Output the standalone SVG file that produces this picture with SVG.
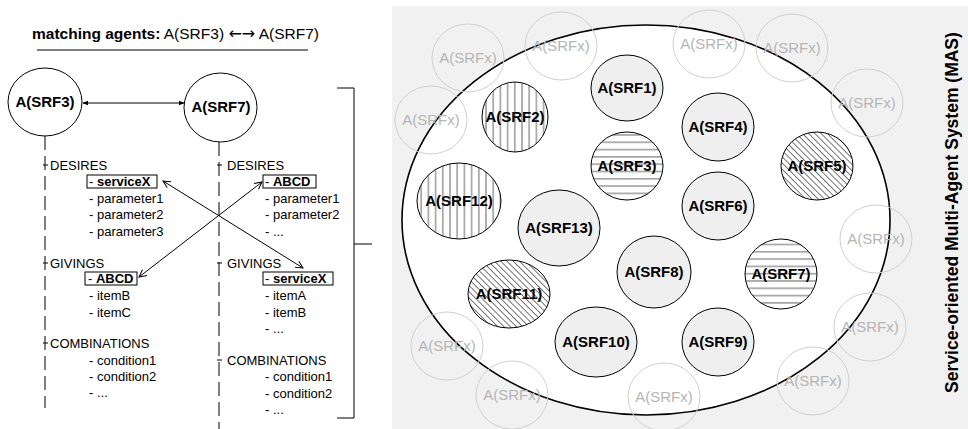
<svg xmlns="http://www.w3.org/2000/svg" width="968" height="429" viewBox="0 0 968 429">
  <defs>
    <style>
      text { font-family: "Liberation Sans", Arial, sans-serif; }
      .lbl { font-size: 15px; font-weight: bold; fill: #000; text-anchor: middle; }
      .ghost ellipse { fill: none; stroke: #d0d0d0; stroke-width: 1; }
      .ghost text { font-size: 15px; fill: #b5b5b5; text-anchor: middle; }
      .agent { stroke: #000; stroke-width: 1; }
      .item { font-size: 13px; fill: #000; }
      .b { font-weight: bold; }
      .arr { font-family: "DejaVu Sans", sans-serif; font-size: 16px; }
      .box { fill: none; stroke: #000; stroke-width: 1; }
      .dash { stroke: #000; stroke-width: 1; stroke-dasharray: 14 6; fill: none; }
      .line { stroke: #000; stroke-width: 1; fill: none; }
    </style>
    <pattern id="hatch-v" patternUnits="userSpaceOnUse" width="7.2" height="10">
      <rect width="7.2" height="10" fill="#fff"/>
      <line x1="3.6" y1="0" x2="3.6" y2="10" stroke="#666" stroke-width="1"/>
    </pattern>
    <pattern id="hatch-h" patternUnits="userSpaceOnUse" width="10" height="7.3">
      <rect width="10" height="7.3" fill="#fff"/>
      <line x1="0" y1="3.6" x2="10" y2="3.6" stroke="#666" stroke-width="1"/>
    </pattern>
    <pattern id="hatch-d" patternUnits="userSpaceOnUse" width="4.4" height="10" patternTransform="rotate(-45)">
      <rect width="4.4" height="10" fill="#fff"/>
      <line x1="2.2" y1="0" x2="2.2" y2="10" stroke="#666" stroke-width="0.9"/>
    </pattern>
    <marker id="open" viewBox="0 0 10 10" refX="9" refY="5" markerWidth="9" markerHeight="9" markerUnits="userSpaceOnUse" orient="auto-start-reverse">
      <path d="M1,1 L9,5 L1,9" fill="none" stroke="#000" stroke-width="1.1"/>
    </marker>
    <marker id="solid" viewBox="0 0 10 10" refX="9" refY="5" markerWidth="6" markerHeight="6" markerUnits="userSpaceOnUse" orient="auto-start-reverse">
      <path d="M0,1 L10,5 L0,9 Z" fill="#000"/>
    </marker>
  </defs>

  <!-- heading -->
  <g id="heading">
    <text x="32" y="39" font-size="15.5"><tspan class="b">matching agents:</tspan> A(SRF3) <tspan class="arr">←→</tspan> A(SRF7)</text>
    <line class="line" x1="37" y1="50" x2="308" y2="50"/>
  </g>

  <!-- connectors and guide lines -->
  <g id="connectors">
    <line class="dash" x1="45" y1="136" x2="45" y2="408"/>
    <line class="dash" x1="219" y1="142" x2="219" y2="429"/>
    <line class="line" x1="83" y1="103" x2="184" y2="103" marker-start="url(#solid)" marker-end="url(#solid)"/>
    <line class="line" x1="163" y1="181" x2="303" y2="268" marker-start="url(#open)" marker-end="url(#open)"/>
    <line class="line" x1="262" y1="182" x2="139" y2="277" marker-start="url(#open)" marker-end="url(#open)"/>
    <!-- branch ticks -->
    <line class="line" x1="43" y1="165" x2="48" y2="165"/>
    <line class="line" x1="43" y1="263" x2="48" y2="263"/>
    <line class="line" x1="43" y1="343" x2="48" y2="343"/>
    <line class="line" x1="217" y1="165" x2="222" y2="165"/>
    <line class="line" x1="217" y1="263" x2="222" y2="263"/>
    <line class="line" x1="217" y1="360" x2="222" y2="360"/>
    <!-- bracket -->
    <path class="line" d="M337,88 H354 V418 H337 M354,244 H372"/>
  </g>

  <g id="agent-srf3-detail">
    <ellipse class="agent" cx="45" cy="102" rx="37" ry="34" fill="#fff"/>
    <text class="lbl" x="45" y="107">A(SRF3)</text>
    <text class="item" x="50" y="170">DESIRES</text>
    <rect class="box" x="87" y="175" width="70" height="13"/>
    <text class="item" x="89" y="186">- <tspan class="b">serviceX</tspan></text>
    <text class="item" x="89" y="203">- parameter1</text>
    <text class="item" x="89" y="219">- parameter2</text>
    <text class="item" x="89" y="236">- parameter3</text>
    <text class="item" x="50" y="268">GIVINGS</text>
    <rect class="box" x="85" y="272" width="52" height="13"/>
    <text class="item" x="88" y="283">- <tspan class="b">ABCD</tspan></text>
    <text class="item" x="89" y="300">- itemB</text>
    <text class="item" x="89" y="317">- itemC</text>
    <text class="item" x="50" y="348">COMBINATIONS</text>
    <text class="item" x="89" y="365">- condition1</text>
    <text class="item" x="89" y="381">- condition2</text>
    <text class="item" x="89" y="397">- ...</text>
  </g>

  <g id="agent-srf7-detail">
    <ellipse class="agent" cx="220.5" cy="107.5" rx="36.5" ry="34.5" fill="#fff"/>
    <text class="lbl" x="221" y="112">A(SRF7)</text>
    <text class="item" x="227" y="170">DESIRES</text>
    <rect class="box" x="263" y="175" width="53" height="13"/>
    <text class="item" x="265" y="186">- <tspan class="b">ABCD</tspan></text>
    <text class="item" x="265" y="203">- parameter1</text>
    <text class="item" x="265" y="219">- parameter2</text>
    <text class="item" x="265" y="236">- ...</text>
    <text class="item" x="227" y="268">GIVINGS</text>
    <rect class="box" x="263" y="272" width="70" height="13"/>
    <text class="item" x="265" y="283">- <tspan class="b">serviceX</tspan></text>
    <text class="item" x="265" y="300">- itemA</text>
    <text class="item" x="265" y="317">- itemB</text>
    <text class="item" x="265" y="333">- ...</text>
    <text class="item" x="227" y="365">COMBINATIONS</text>
    <text class="item" x="265" y="381">- condition1</text>
    <text class="item" x="265" y="398">- condition2</text>
    <text class="item" x="265" y="414">- ...</text>
  </g>

  <!-- multi-agent system -->
  <g id="mas">
    <rect x="392" y="6" width="576" height="423" fill="#f1f1f1"/>
    <ellipse cx="646" cy="220" rx="244" ry="195" fill="#fff" stroke="#000" stroke-width="1.6"/>
    <text x="958" y="212.5" font-size="17.5" font-weight="bold" text-anchor="middle" transform="rotate(-90 958 212.5)">Service-oriented Multi-Agent System (MAS)</text>
  </g>

  <g id="ghosts" class="ghost">
    <g id="ghost-1"><ellipse cx="468" cy="58" rx="36" ry="34"/><text x="468" y="63">A(SRFx)</text></g>
    <g id="ghost-2"><ellipse cx="561" cy="46" rx="36" ry="34"/><text x="561" y="51">A(SRFx)</text></g>
    <g id="ghost-3"><ellipse cx="709" cy="44" rx="36" ry="34"/><text x="709" y="49">A(SRFx)</text></g>
    <g id="ghost-4"><ellipse cx="792" cy="48" rx="36" ry="34"/><text x="792" y="53">A(SRFx)</text></g>
    <g id="ghost-5"><ellipse cx="431" cy="120" rx="36" ry="34"/><text x="431" y="125">A(SRFx)</text></g>
    <g id="ghost-6"><ellipse cx="867" cy="103" rx="36" ry="34"/><text x="867" y="108">A(SRFx)</text></g>
    <g id="ghost-7"><ellipse cx="876" cy="239" rx="36" ry="34"/><text x="876" y="244">A(SRFx)</text></g>
    <g id="ghost-8"><ellipse cx="870" cy="327" rx="36" ry="34"/><text x="870" y="332">A(SRFx)</text></g>
    <g id="ghost-9"><ellipse cx="813" cy="381" rx="36" ry="34"/><text x="813" y="386">A(SRFx)</text></g>
    <g id="ghost-10"><ellipse cx="447" cy="346" rx="36" ry="34"/><text x="447" y="351">A(SRFx)</text></g>
    <g id="ghost-11"><ellipse cx="512" cy="395" rx="36" ry="34"/><text x="512" y="400">A(SRFx)</text></g>
    <g id="ghost-12"><ellipse cx="664" cy="397" rx="36" ry="34"/><text x="664" y="402">A(SRFx)</text></g>
  </g>

  <g id="srf1"><ellipse class="agent" cx="627" cy="88" rx="36" ry="33" fill="#efefef"/><text class="lbl" x="627" y="93">A(SRF1)</text></g>
  <g id="srf2"><ellipse class="agent" cx="515" cy="117" rx="33" ry="35" fill="url(#hatch-v)"/><text class="lbl" x="515" y="122">A(SRF2)</text></g>
  <g id="srf3"><ellipse class="agent" cx="627" cy="166" rx="36" ry="34" fill="url(#hatch-h)"/><text class="lbl" x="627" y="171">A(SRF3)</text></g>
  <g id="srf4"><ellipse class="agent" cx="718" cy="127" rx="36" ry="34" fill="#efefef"/><text class="lbl" x="718" y="132">A(SRF4)</text></g>
  <g id="srf5"><ellipse class="agent" cx="817" cy="166" rx="36" ry="34" fill="url(#hatch-d)"/><text class="lbl" x="817" y="171">A(SRF5)</text></g>
  <g id="srf6"><ellipse class="agent" cx="718" cy="206" rx="36" ry="34" fill="#efefef"/><text class="lbl" x="718" y="211">A(SRF6)</text></g>
  <g id="srf12"><ellipse class="agent" cx="459" cy="201" rx="42" ry="38" fill="url(#hatch-v)"/><text class="lbl" x="459" y="206">A(SRF12)</text></g>
  <g id="srf13"><ellipse class="agent" cx="559" cy="228" rx="41" ry="38" fill="#efefef"/><text class="lbl" x="559" y="233">A(SRF13)</text></g>
  <g id="srf8"><ellipse class="agent" cx="654" cy="272" rx="37" ry="36" fill="#efefef"/><text class="lbl" x="654" y="277">A(SRF8)</text></g>
  <g id="srf7"><ellipse class="agent" cx="781" cy="274" rx="36" ry="35" fill="url(#hatch-h)"/><text class="lbl" x="781" y="279">A(SRF7)</text></g>
  <g id="srf11"><ellipse class="agent" cx="509" cy="294" rx="41" ry="34" fill="url(#hatch-d)"/><text class="lbl" x="509" y="299">A(SRF11)</text></g>
  <g id="srf10"><ellipse class="agent" cx="596" cy="342" rx="41" ry="35" fill="#efefef"/><text class="lbl" x="596" y="347">A(SRF10)</text></g>
  <g id="srf9"><ellipse class="agent" cx="718" cy="342" rx="36" ry="34" fill="#efefef"/><text class="lbl" x="718" y="347">A(SRF9)</text></g>
</svg>
